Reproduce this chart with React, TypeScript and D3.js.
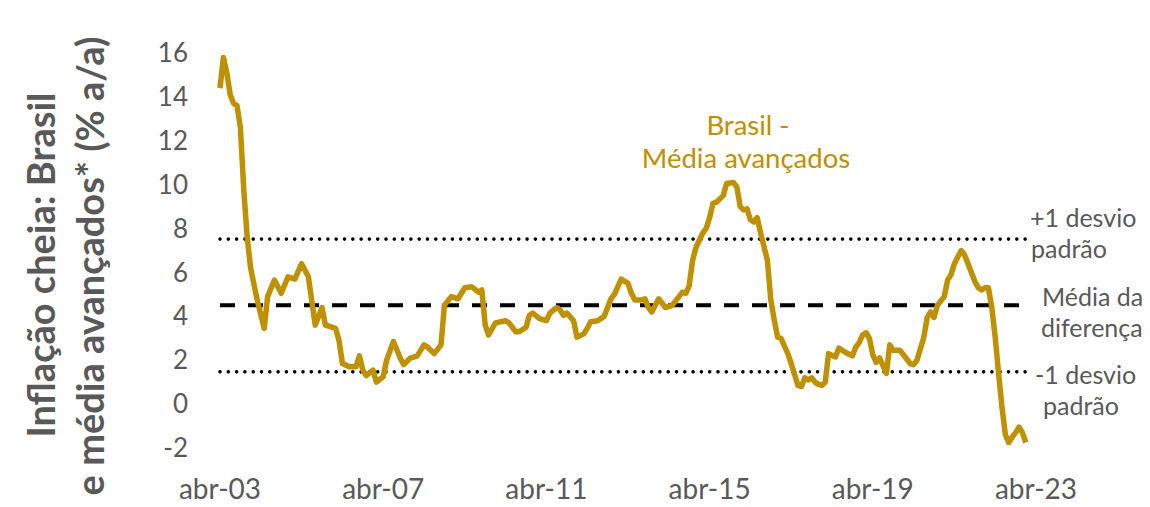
import React, { useEffect } from "react";
import * as d3 from "d3";

// Brasil - média avançados, % a/a
const months = [
  "2003-04","2003-05","2003-06","2003-07","2003-08","2003-09","2003-10","2003-11","2003-12",
  "2004-01","2004-03","2004-05","2004-06","2004-08","2004-10","2004-12",
  "2005-02","2005-04","2005-06","2005-08","2005-10","2005-11",
  "2006-02","2006-03","2006-04","2006-06","2006-08","2006-09","2006-10","2006-11",
  "2007-01","2007-02","2007-04","2007-05","2007-07","2007-09","2007-10","2007-12",
  "2008-02","2008-04","2008-05","2008-07","2008-09","2008-10","2008-12",
  "2009-02","2009-04","2009-06","2009-08","2009-09","2009-10","2009-11",
  "2010-01","2010-04","2010-05","2010-07","2010-08","2010-10","2010-11","2010-12",
  "2011-02","2011-04","2011-05","2011-07","2011-08","2011-09","2011-10","2011-12",
  "2012-01","2012-03","2012-04","2012-05","2012-07","2012-09","2012-11","2012-12",
  "2013-02","2013-04","2013-05","2013-06","2013-08","2013-09","2013-10","2013-11",
  "2014-01","2014-03","2014-05","2014-07","2014-08","2014-09","2014-10","2014-11","2014-12",
  "2015-02","2015-03","2015-04","2015-05","2015-06","2015-08","2015-09","2015-11","2015-12",
  "2016-01","2016-02","2016-03","2016-04","2016-05","2016-06","2016-07","2016-09","2016-10","2016-11","2016-12",
  "2017-01","2017-03","2017-04","2017-06","2017-07","2017-08","2017-09","2017-10","2017-11","2017-12",
  "2018-01","2018-02","2018-03","2018-05","2018-06","2018-08","2018-10","2018-11","2018-12",
  "2019-01","2019-02","2019-03","2019-04","2019-05","2019-06","2019-08","2019-09","2019-10","2019-12",
  "2020-01","2020-03","2020-04","2020-05","2020-07","2020-08","2020-09","2020-10","2020-11",
  "2021-01","2021-02","2021-03","2021-04","2021-05","2021-06","2021-07","2021-09","2021-10","2021-11","2021-12",
  "2022-01","2022-02","2022-03","2022-04","2022-05","2022-06","2022-07","2022-08","2022-09","2022-10","2022-11","2022-12",
  "2023-01",
];

const diffValues = [
  14.4, 15.8, 15.1, 14.1, 13.7, 13.6, 12.6, 9.75, 7.6,
  6.2, 4.7, 3.45, 4.9, 5.65, 5.05, 5.8,
  5.7, 6.4, 5.8, 3.6, 4.4, 3.6,
  3.45, 2.9, 1.85, 1.7, 1.7, 2.2, 1.55, 1.3,
  1.55, 1.0, 1.25, 2.0, 2.85, 2.1, 1.8, 2.1,
  2.2, 2.7, 2.6, 2.3, 2.7, 4.5, 4.9,
  4.8, 5.3, 5.35, 5.1, 5.2, 3.6, 3.15,
  3.7, 3.8, 3.7, 3.3, 3.3, 3.5, 4.05, 4.15,
  3.9, 3.8, 4.15, 4.4, 4.3, 4.05, 4.15, 3.8,
  3.05, 3.2, 3.45, 3.75, 3.8, 4.0, 4.8, 5.0,
  5.7, 5.5, 5.05, 4.75, 4.75, 4.8, 4.4, 4.2,
  4.8, 4.4, 4.5, 4.9, 5.1, 5.05, 5.4, 6.55, 7.15,
  7.8, 8.0, 8.5, 9.15, 9.2, 9.5, 10.05, 10.1, 9.9,
  9.0, 8.85, 8.9, 8.4, 8.3, 8.5, 7.8, 6.55, 4.75, 3.85, 3.05,
  3.0, 2.3, 1.85, 0.85, 0.8, 1.2, 1.1, 1.2, 1.0, 0.9,
  0.85, 1.0, 2.3, 2.15, 2.55, 2.35, 2.2, 2.6, 2.8,
  3.15, 3.25, 3.0, 2.25, 1.9, 2.1, 1.4, 2.7, 2.45, 2.45,
  2.25, 1.85, 1.8, 2.0, 3.05, 3.95, 4.2, 3.95, 4.5,
  4.9, 5.65, 5.9, 6.4, 6.7, 7.0, 6.8, 6.0, 5.6, 5.3, 5.2,
  5.3, 5.3, 4.4, 3.05, 1.4, -0.15, -1.4, -1.75, -1.5, -1.3, -1.05, -1.3,
  -1.75,
];

// média da diferença e +/- 1 desvio padrão
const meanDiff = 4.5;
const plusOneSd = 7.52;
const minusOneSd = 1.47;

const yTicks = [-2, 0, 2, 4, 6, 8, 10, 12, 14, 16];
const xTickMonths = ["2003-04", "2007-04", "2011-04", "2015-04", "2019-04", "2023-04"];
const xTickLabels = ["abr-03", "abr-07", "abr-11", "abr-15", "abr-19", "abr-23"];

const GOLD = "#BF9000";
const GREY = "#595959";
const FONT = "Lato, 'Open Sans', sans-serif";

// months since abr-03
const monthIndex = (s: string) => {
  const [y, m] = s.split("-").map(Number);
  return (y - 2003) * 12 + (m - 4);
};

export default function App() {
  useEffect(() => {
    document.body.style.margin = "0";
  }, []);

  const width = 1150;
  const height = 507;

  const x = d3.scaleLinear().domain([0, 240]).range([220, 1036]);
  const y = d3.scaleLinear().domain([-2, 16]).range([448, 53]);

  const points = months.map((m, i) => ({ t: monthIndex(m), v: diffValues[i] }));
  const line = d3
    .line<{ t: number; v: number }>()
    .x((d) => x(d.t))
    .y((d) => y(d.v));

  const x0 = x(points[0].t);
  const x1 = x(points[points.length - 1].t);

  return (
    <svg
      width={width}
      height={height}
      style={{ position: "fixed", left: 0, top: 0, background: "#fff" }}
      fontFamily={FONT}
    >
      {/* y axis title */}
      <g transform={`translate(55, 265) rotate(-90)`}>
        <text textAnchor="middle" fontSize={38} fontWeight="bold" fill={GREY}>
          Inflação cheia: Brasil
        </text>
      </g>
      <g transform={`translate(104, 266) rotate(-90)`}>
        <text textAnchor="middle" fontSize={38} fontWeight="bold" fill={GREY}>
          e média avançados* (% a/a)
        </text>
      </g>

      {/* y tick labels */}
      {yTicks.map((t) => (
        <text
          key={t}
          x={188}
          y={y(t)}
          dy="0.35em"
          textAnchor="end"
          fontSize={26}
          fill={GREY}
        >
          {t}
        </text>
      ))}

      {/* x tick labels */}
      {xTickMonths.map((m, i) => (
        <text
          key={m}
          x={x(monthIndex(m))}
          y={489}
          dy="0.35em"
          textAnchor="middle"
          fontSize={28}
          fill={GREY}
        >
          {xTickLabels[i]}
        </text>
      ))}

      {/* reference lines */}
      <line
        x1={x0}
        x2={x1}
        y1={y(plusOneSd)}
        y2={y(plusOneSd)}
        stroke="#000"
        strokeWidth={3.6}
        strokeLinecap="round"
        strokeDasharray="0 8.3"
      />
      <line
        x1={x0}
        x2={x1}
        y1={y(minusOneSd)}
        y2={y(minusOneSd)}
        stroke="#000"
        strokeWidth={3.6}
        strokeLinecap="round"
        strokeDasharray="0 8.3"
      />
      <line
        x1={x0}
        x2={x1}
        y1={y(meanDiff)}
        y2={y(meanDiff)}
        stroke="#000"
        strokeWidth={4}
        strokeDasharray="15 13"
      />

      {/* series */}
      <path
        d={line(points) || ""}
        fill="none"
        stroke={GOLD}
        strokeWidth={5.5}
        strokeLinejoin="round"
      />

      {/* series label */}
      <text x={748} y={125} dy="0.35em" textAnchor="middle" fontSize={27.5} fill={GOLD}>
        Brasil -
      </text>
      <text x={746} y={158} dy="0.35em" textAnchor="middle" fontSize={27.5} fill={GOLD}>
        Média avançados
      </text>

      {/* reference labels */}
      <text x={1030} y={218} dy="0.35em" fontSize={25} fill={GREY}>+1 desvio</text>
      <text x={1031} y={249} dy="0.35em" fontSize={25} fill={GREY}>padrão</text>
      <text x={1042} y={297} dy="0.35em" fontSize={25} fill={GREY}>Média da</text>
      <text x={1041} y={328} dy="0.35em" fontSize={25} fill={GREY}>diferença</text>
      <text x={1035} y={375} dy="0.35em" fontSize={25} fill={GREY}>-1 desvio</text>
      <text x={1043} y={406} dy="0.35em" fontSize={25} fill={GREY}>padrão</text>
    </svg>
  );
}
